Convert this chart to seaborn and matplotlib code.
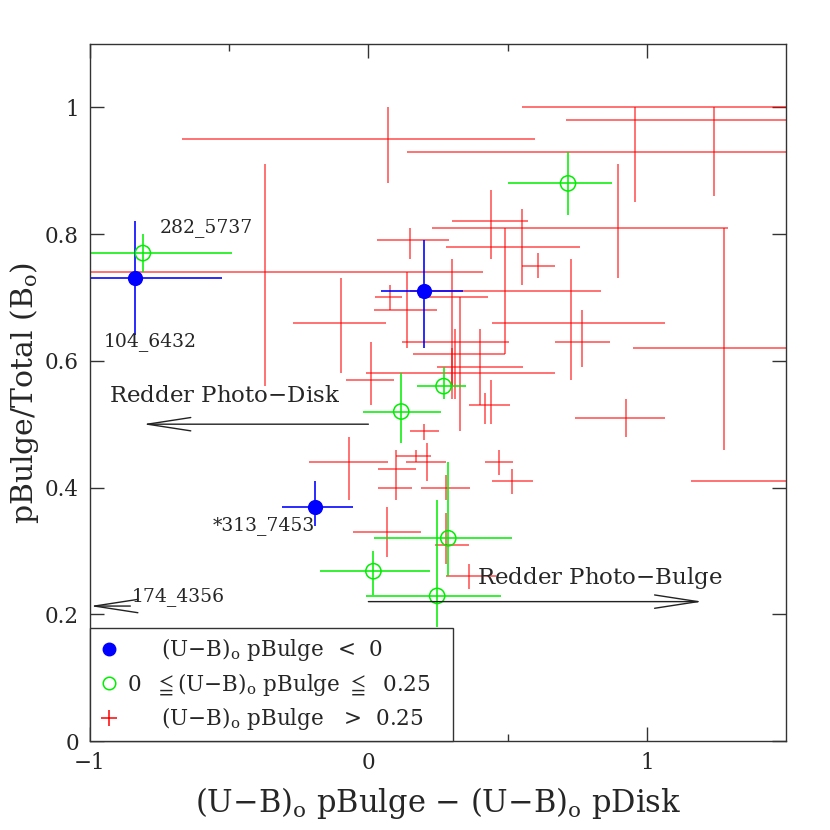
import numpy as np
import pandas as pd
import seaborn as sns
from matplotlib import pyplot as plt
from matplotlib.lines import Line2D

# puntos rojos: (U-B) pBulge > 0.25  -> x, y y los extremos de las barras de error
red_x = [0.072, 0.957, 1.24, 1.24, -0.37, 0.898, 1.278, 0.44, 0.55, 0.61,
         0.15, 0.49, 0.727, 0.50, 0.767, -0.10, 0.01, 0.078, 0.14, 0.33,
         0.30, 0.30, 0.31, 0.40, 0.42, 0.44, 0.20, -0.07, 0.10, 0.10,
         0.17, 0.21, 0.28, 0.47, 0.516, 0.068, 0.36, 0.28, 0.927, 1.6]
red_y = [0.95, 0.93, 0.98, 1.0, 0.74, 0.81, 0.62, 0.82, 0.78, 0.75,
         0.79, 0.61, 0.66, 0.71, 0.63, 0.66, 0.57, 0.70, 0.68, 0.70,
         0.66, 0.58, 0.59, 0.63, 0.53, 0.53, 0.49, 0.44, 0.43, 0.40,
         0.45, 0.44, 0.40, 0.44, 0.41, 0.33, 0.26, 0.31, 0.51, 0.41]
red_xlo = [-0.67, 0.14, 0.71, 0.55, -1.1, 0.23, 0.95, 0.30, 0.28, 0.55,
           0.03, 0.16, 0.445, 0.15, 0.67, -0.27, -0.08, 0.025, 0.02, 0.18,
           0.30, -0.01, 0.245, 0.12, 0.36, 0.44, 0.15, -0.215, 0.033, 0.033,
           0.10, 0.135, 0.19, 0.42, 0.445, -0.057, 0.28, 0.24, 0.743, 1.16]
red_xhi = [0.60, 1.6, 1.6, 1.6, 0.41, 1.29, 1.6, 0.575, 0.76, 0.67,
           0.29, 0.49, 1.065, 0.835, 0.867, 0.063, 0.093, 0.12, 0.245, 0.43,
           0.30, 0.67, 0.556, 0.505, 0.51, 0.44, 0.255, 0.07, 0.17, 0.157,
           0.225, 0.28, 0.365, 0.52, 0.59, 0.19, 0.46, 0.36, 1.066, 1.6]
red_ylo = [0.88, 0.85, 0.86, 1.0, 0.56, 0.73, 0.46, 0.76, 0.72, 0.73,
           0.76, 0.61, 0.57, 0.71, 0.59, 0.58, 0.53, 0.68, 0.62, 0.49,
           0.56, 0.54, 0.54, 0.53, 0.50, 0.50, 0.475, 0.38, 0.38, 0.40,
           0.44, 0.41, 0.38, 0.42, 0.39, 0.29, 0.24, 0.28, 0.48, 0.41]
red_yhi = [1.0, 1.0, 1.0, 1.0, 0.91, 0.91, 0.81, 0.87, 0.84, 0.77,
           0.81, 0.81, 0.76, 0.71, 0.68, 0.73, 0.63, 0.72, 0.74, 0.70,
           0.76, 0.62, 0.65, 0.65, 0.55, 0.57, 0.50, 0.48, 0.46, 0.40,
           0.46, 0.47, 0.42, 0.46, 0.43, 0.37, 0.28, 0.36, 0.54, 0.41]

# puntos verdes: 0 <= (U-B) pBulge <= 0.25
green_x = [-0.81, 0.717, 0.27, 0.118, 0.287, 0.018, 0.247]
green_y = [0.77, 0.88, 0.56, 0.52, 0.32, 0.268, 0.229]
green_xlo = [-1.05, 0.503, 0.175, -0.02, 0.02, -0.175, -0.01]
green_xhi = [-0.49, 0.874, 0.35, 0.26, 0.516, 0.22, 0.476]
green_ylo = [0.74, 0.83, 0.54, 0.47, 0.26, 0.23, 0.18]
green_yhi = [0.80, 0.93, 0.59, 0.58, 0.44, 0.30, 0.38]

# puntos azules: (U-B) pBulge < 0
blue_x = [-0.84, 0.20, -0.19]
blue_y = [0.73, 0.71, 0.37]
blue_xlo = [-1.05, 0.047, -0.31]
blue_xhi = [-0.527, 0.34, -0.054]
blue_ylo = [0.64, 0.62, 0.34]
blue_yhi = [0.82, 0.79, 0.41]

# etiquetas de galaxias
gal_names = ['282_5737', '104_6432', '*313_7453', '174_4356']
gal_x = [-0.75, -0.95, -0.56, -0.85]
gal_y = [0.81, 0.63, 0.34, 0.228]

RED, GREEN, BLUE = '#ff0000', '#00ee00', '#0000ff'

sns.set_style('ticks')
plt.rcParams['font.family'] = ['DejaVu Serif', 'DejaVu Sans']
plt.rcParams['mathtext.fontset'] = 'dejavuserif'


def to_frame(x, y, xlo, xhi, ylo, yhi):
    df = pd.DataFrame({'x': x, 'y': y, 'xlo': xlo, 'xhi': xhi, 'ylo': ylo, 'yhi': yhi})
    df['ex_lo'] = df['x'] - df['xlo']
    df['ex_hi'] = df['xhi'] - df['x']
    df['ey_lo'] = df['y'] - df['ylo']
    df['ey_hi'] = df['yhi'] - df['y']
    return df


red = to_frame(red_x, red_y, red_xlo, red_xhi, red_ylo, red_yhi)
green = to_frame(green_x, green_y, green_xlo, green_xhi, green_ylo, green_yhi)
blue = to_frame(blue_x, blue_y, blue_xlo, blue_xhi, blue_ylo, blue_yhi)

fig = plt.figure(figsize=(8.3, 8.3), dpi=100)
ax = fig.add_axes([0.1084, 0.1072, 0.8386, 0.8398])

for df, col, alpha in [(red, RED, 0.6), (green, GREEN, 0.85), (blue, BLUE, 0.9)]:
    ax.errorbar(df['x'], df['y'], xerr=[df['ex_lo'], df['ex_hi']],
                yerr=[df['ey_lo'], df['ey_hi']], fmt='none', ecolor=col,
                elinewidth=1.3, capsize=0, alpha=alpha, zorder=2)

sns.scatterplot(data=green, x='x', y='y', ax=ax, marker='o', s=120,
                facecolor='none', edgecolor=GREEN, linewidth=1.1, zorder=3)
sns.scatterplot(data=blue, x='x', y='y', ax=ax, marker='o', s=120,
                color=BLUE, edgecolor=BLUE, linewidth=0, zorder=4)

# flechas
arrow = dict(arrowstyle='->, head_length=2.6, head_width=0.4', color='#222222',
             lw=1.0, mutation_scale=12, shrinkA=0, shrinkB=0)
ax.annotate('', xy=(-0.81, 0.50), xytext=(0.0, 0.50), arrowprops=arrow)
ax.annotate('', xy=(1.2, 0.22), xytext=(0.0, 0.22), arrowprops=arrow)
ax.annotate('', xy=(-1.0, 0.213), xytext=(-0.855, 0.213), arrowprops=arrow)
ax.text(-0.93, 0.545, 'Redder Photo$-$Disk', fontsize=16.5, va='center', ha='left')
ax.text(0.39, 0.258, 'Redder Photo$-$Bulge', fontsize=16.5, va='center', ha='left')

for name, gx, gy in zip(gal_names, gal_x, gal_y):
    ax.text(gx, gy, name, fontsize=13.5, ha='left', va='center')

ax.set_xlim(-1, 1.5)
ax.set_ylim(0, 1.1)
ax.set_xticks([-1, 0, 1])
ax.set_xticklabels(['\u22121', '0', '1'])
ax.set_xticks([-0.5, 0.5], minor=True)
ax.set_yticks([0, 0.2, 0.4, 0.6, 0.8, 1.0])
ax.set_yticklabels(['0', '0.2', '0.4', '0.6', '0.8', '1'])
ax.tick_params(which='both', direction='in', top=True, right=True, labelsize=15.5,
               color='#333333', width=1)
ax.tick_params(which='major', length=10, pad=8)
ax.tick_params(which='minor', length=5)
for s in ax.spines.values():
    s.set_color('#333333')
    s.set_linewidth(1)

ax.set_xlabel('(U$-$B)$_{\\rm o}$ pBulge $-$ (U$-$B)$_{\\rm o}$ pDisk', fontsize=22, labelpad=8)
ax.set_ylabel('pBulge/Total (B$_{\\rm o}$)', fontsize=21.5, labelpad=3)

handles = [
    Line2D([], [], ls='none', marker='o', ms=9, color=BLUE, mec=BLUE),
    Line2D([], [], ls='none', marker='o', ms=9, mfc='none', mec=GREEN, mew=1.1),
    Line2D([], [], ls='none', marker='+', ms=12, color=RED, mew=1.1),
]
labels = [
    '     (U$-$B)$_{\\rm o}$ pBulge  <  0',
    '0  $\\leqq$(U$-$B)$_{\\rm o}$ pBulge $\\leqq$  0.25',
    '     (U$-$B)$_{\\rm o}$ pBulge   >  0.25',
]
leg = ax.legend(handles, labels, loc='lower left', bbox_to_anchor=(0, 0, 0.522, 0.164),
                mode='expand', borderaxespad=0, frameon=True, fancybox=False,
                framealpha=1, edgecolor='#333333', fontsize=15.5, handlelength=1.0,
                handletextpad=0.3, labelspacing=0.35, borderpad=0.4)
leg.get_frame().set_linewidth(1)
leg.set_zorder(10)

fig.savefig('out.png', dpi=100)
